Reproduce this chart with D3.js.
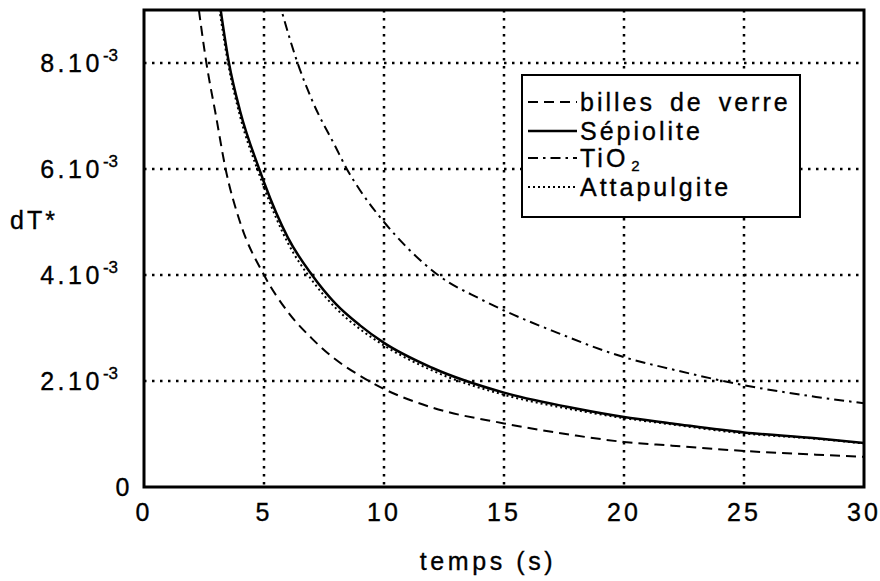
<!DOCTYPE html>
<html><head><meta charset="utf-8">
<script src="https://cdn.jsdelivr.net/npm/d3@7"></script>
<style>
html,body{margin:0;padding:0;background:#fff;}
text{font-family:"Liberation Sans",Arial,Helvetica,sans-serif;fill:#000;stroke:#000;stroke-width:0.35px;}
</style></head>
<body><svg id="c" width="880" height="581"></svg>
<script>
// ---- data ----
const xTicks = [0, 5, 10, 15, 20, 25, 30];
const yTicks = [0, 0.002, 0.004, 0.006, 0.008];
const yTickMantissa = ["0", "2.10", "4.10", "6.10", "8.10"];
const yTickExp = ["", "-3", "-3", "-3", "-3"];

const tBilles = [2.2, 2.6, 3, 3.4, 4, 5, 6, 7, 8, 9, 10, 12, 15, 18, 20, 22, 25, 28, 30];
const vBilles = [9.3, 8.0, 7.0, 6.0, 5.0, 4.0, 3.3, 2.8, 2.4, 2.1, 1.85, 1.5, 1.2, 0.97, 0.85, 0.78, 0.68, 0.61, 0.57];

const tSepio = [3.1, 3.54, 4, 4.8, 5, 6, 7, 8, 9, 10, 12, 15, 18, 20, 22, 25, 28, 30];
const vSepio = [9.3, 8.0, 7.1, 6.0, 5.75, 4.7, 4.0, 3.45, 3.05, 2.72, 2.25, 1.78, 1.48, 1.32, 1.2, 1.03, 0.92, 0.83];

const tTiO2 = [5.6, 6.4, 7, 8, 8.45, 9, 10, 11, 12.25, 14, 15, 17, 20, 22, 25, 28, 30];
const vTiO2 = [9.2, 8.0, 7.3, 6.4, 6.0, 5.6, 5.0, 4.5, 4.0, 3.55, 3.33, 2.95, 2.45, 2.22, 1.92, 1.7, 1.58];

const tAtta = [3.05, 3.5, 4, 4.8, 5, 6, 7, 8, 9, 10, 12, 15, 18, 20, 22, 25, 28, 30];
const vAtta = [9.3, 8.0, 7.0, 5.9, 5.65, 4.6, 3.9, 3.37, 2.98, 2.67, 2.2, 1.74, 1.45, 1.3, 1.18, 1.01, 0.91, 0.82];

const seriesNames = ["billes de verre", "Sépiolite", "TiO", "Attapulgite"];
const seriesSub = ["", "", "2", ""];
const seriesT = [tBilles, tSepio, tTiO2, tAtta];
const seriesV = [vBilles, vSepio, vTiO2, vAtta];
const seriesDash = ["10,6", null, "10,5,2.5,5", "2,3"];
const seriesWidth = [2, 2.5, 2, 2];

// ---- layout ----
const L = 144, T = 10, R = 864, B = 487;
const svg = d3.select("#c");
const x = d3.scaleLinear().domain([0, 30]).range([L, R]);
const y = d3.scaleLinear().domain([0, 0.009]).range([B, T]);

// grid
const gridStyle = g => g.attr("stroke", "#000").attr("stroke-width", 2.5).attr("stroke-dasharray", "2.5,5.5");
svg.append("g").selectAll("line").data(xTicks.slice(1, -1)).join("line")
  .attr("x1", d => x(d)).attr("x2", d => x(d)).attr("y1", T).attr("y2", B).call(gridStyle);
svg.append("g").selectAll("line").data(yTicks.slice(1)).join("line")
  .attr("x1", L).attr("x2", R).attr("y1", d => y(d)).attr("y2", d => y(d)).call(gridStyle);

// clip
svg.append("clipPath").attr("id", "clip").append("rect")
  .attr("x", L).attr("y", T).attr("width", R - L).attr("height", B - T);

const line = d3.line().x(d => x(d[0])).y(d => y(d[1] / 1000)).curve(d3.curveMonotoneX);
const curves = svg.append("g").attr("clip-path", "url(#clip)");
seriesT.forEach((ts, i) => {
  const pts = ts.map((t, j) => [t, seriesV[i][j]]);
  curves.append("path").attr("d", line(pts)).attr("fill", "none").attr("stroke", "#000")
    .attr("stroke-width", seriesWidth[i]).attr("stroke-dasharray", seriesDash[i]);
});

// frame
svg.append("rect").attr("x", L).attr("y", T).attr("width", R - L).attr("height", B - T)
  .attr("fill", "none").attr("stroke", "#000").attr("stroke-width", 3);

// x tick labels
svg.append("g").selectAll("text").data(xTicks).join("text")
  .attr("x", d => x(d)).attr("y", 521).attr("text-anchor", "middle")
  .attr("font-size", 25).attr("letter-spacing", 3).text(d => d);

// y tick labels
const yl = svg.append("g").selectAll("text").data(yTicks).join("text")
  .attr("x", (d, i) => yTickExp[i] ? 118 : 133).attr("y", d => y(d) + 9)
  .attr("text-anchor", "end").attr("font-size", 25).attr("letter-spacing", 3.5);
yl.append("tspan").text((d, i) => yTickMantissa[i]);
yl.append("tspan").attr("dy", -11).attr("font-size", 17).attr("letter-spacing", 0).text((d, i) => yTickExp[i]);

// axis titles
svg.append("text").attr("x", 10).attr("y", 229).attr("font-size", 25).attr("letter-spacing", 3).text("dT*");
svg.append("text").attr("x", 488).attr("y", 570).attr("text-anchor", "middle")
  .attr("font-size", 25).attr("letter-spacing", 3.6).text("temps (s)");

// legend
const lg = svg.append("g");
lg.append("rect").attr("x", 522).attr("y", 75).attr("width", 278).attr("height", 142)
  .attr("fill", "#fff").attr("stroke", "#000").attr("stroke-width", 2);
const rowY = [102, 131, 158, 187];
seriesNames.forEach((nm, i) => {
  lg.append("line").attr("x1", 528).attr("x2", 577).attr("y1", rowY[i]).attr("y2", rowY[i])
    .attr("stroke", "#000").attr("stroke-width", seriesWidth[i]).attr("stroke-dasharray", seriesDash[i]);
  const t = lg.append("text").attr("x", 580).attr("y", rowY[i] + 9).attr("font-size", 25)
    .attr("letter-spacing", 3).attr("word-spacing", 5);
  t.append("tspan").text(nm);
  if (seriesSub[i]) t.append("tspan").attr("dx", 3).attr("dy", 4).attr("font-size", 15).text(seriesSub[i]);
});
</script></body></html>
